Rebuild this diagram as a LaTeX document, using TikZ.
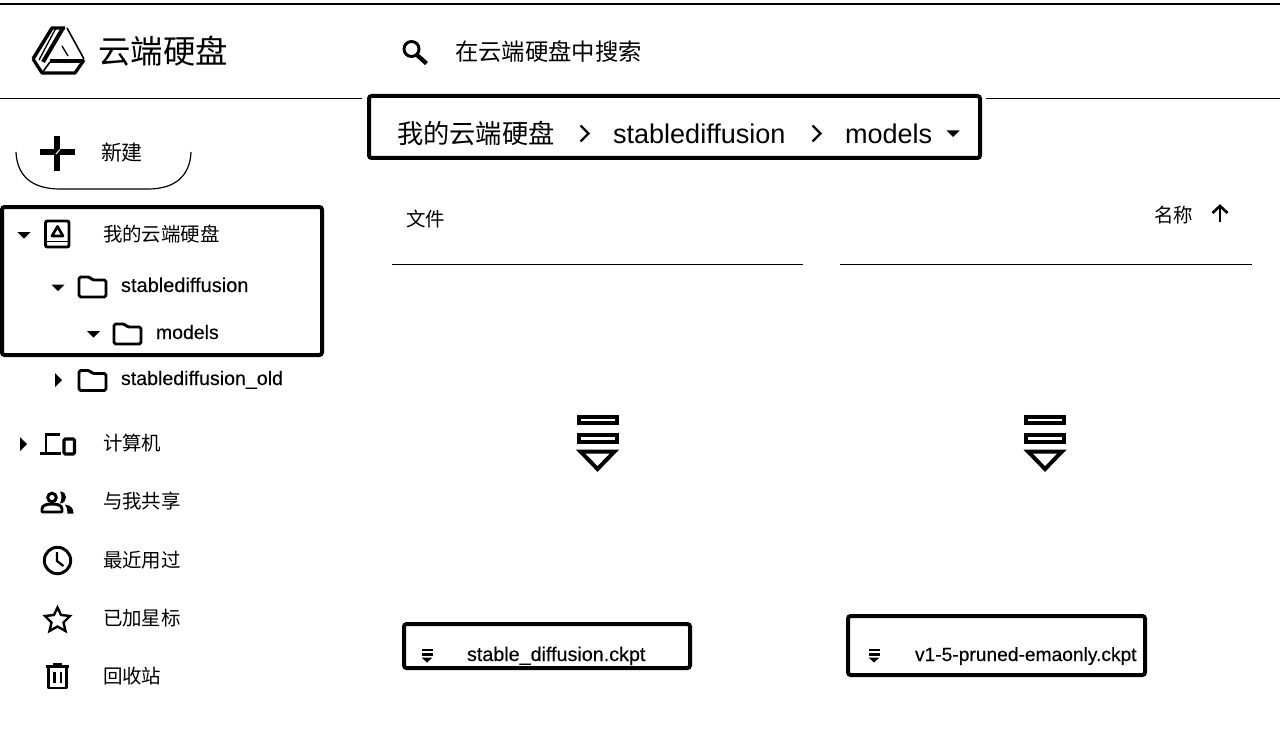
\documentclass[tikz,border=0pt]{standalone}
\usepackage{fontspec}
\setmainfont{Liberation Sans}
\newfontfamily\med[FakeBold=0.25]{Liberation Sans}
\newfontfamily\cjk{Noto Sans CJK SC}
\usetikzlibrary{calc}
\tikzset{
  x=0.75pt,y=-0.75pt,
  frame/.style={draw=black,line width=3pt,rounded corners=2pt,outer sep=0pt,inner sep=0pt,anchor=north west},
  rule/.style={draw=black,line width=0.9pt},
  lbl/.style={inner sep=0pt,outer sep=0pt,anchor=base west,text=black},
  folder/.pic={\draw[line width=2.2pt,rounded corners=1.2pt,line join=round]
     (-13.5,-10) -- (-3,-10) -- (0,-7) -- (13.5,-7) -- (13.5,10) -- (-13.5,10) -- cycle;},
  dl/.pic={
    \draw[line width=3pt,line join=miter] (-19,-20.5) rectangle (19,-14.5);
    \draw[line width=3pt,line join=miter] (-19,-2.5) rectangle (19,4.5);
    \draw[line width=3pt,line join=miter] (-17,14.5) -- (17,14.5) -- (0,32) -- cycle;},
  dlsmall/.pic={
    \fill (-5.5,-6.5) rectangle (5.5,-4.5);
    \fill (-5.5,-2) rectangle (5.5,0.5);
    \fill (-5.5,2.5) -- (5.5,2.5) -- (0,7.5) -- cycle;},
  tridown/.pic={\fill (-6.5,-3) -- (6.5,-3) -- (0,3.5) -- cycle;},
  triright/.pic={\fill (-3.5,-7) -- (3.5,0) -- (-3.5,7) -- cycle;},
  chev/.pic={\draw[line width=1.7pt,line join=miter] (-4.5,-8) -- (3.5,0) -- (-4.5,8);},
}
\begin{document}
\begin{tikzpicture}
\useasboundingbox (0,0) rectangle (1280,738);
\fill[white] (0,0) rectangle (1280,738);
% rules
\draw[rule] (0,4) -- (1280,4);
\draw[rule] (0,98.5) -- (362,98.5);
\draw[rule] (986,98.5) -- (1280,98.5);
\draw[rule] (392,264.5) -- (803,264.5);
\draw[rule] (840,264.5) -- (1252,264.5);
% drive logo
\draw[line width=2.6pt,line join=round] (33,59) -- (52,28) -- (65,28);
\draw[line width=1.2pt] (67,28) -- (84,59);
\draw[line width=2.4pt,line join=round] (84,60) -- (75,73) -- (42,73) -- (33,59);
\draw[line width=3pt] (63,28) -- (43,62);
\draw[line width=1pt] (56,28) -- (39,60);
\draw[line width=3pt] (50,61.5) -- (84,61.5);
\draw[line width=1pt] (62,46) -- (68,56);
\draw[line width=1.2pt] (50,62) -- (42,73);
\draw[line width=1.2pt] (34,60) -- (43,73);
\node[lbl,font=\cjk\fontsize{24.3}{25}\selectfont] (title) at (98.5,64) {云端硬盘};
% search
\draw[line width=2.2pt] (411.5,49) circle[radius=7.5];
\draw[line width=3.2pt] (417,55) -- (426.5,63.5);
\node[lbl,font=\cjk\fontsize{17.5}{18}\selectfont] (search) at (455,61) {在云端硬盘中搜索};
% new button
\draw[line width=0.9pt] (16,152) .. controls (17,176) and (32,189) .. (60,189) -- (148,189) .. controls (175,189) and (190,176) .. (191,152);
\fill (54,136) rectangle (59.5,171);
\fill (40,149.5) rectangle (75,155);
\draw[white,line width=0.7pt] (56,154) -- (60,149.5);
\node[lbl,font=\cjk\fontsize{15.7}{16}\selectfont] (new) at (101,160.5) {新建};
% sidebar frame
\node[frame,minimum width=240pt,minimum height=111pt] (treebox) at (2,207) {};
\pic at (24,235) {tridown};
\draw[line width=2.2pt,rounded corners=1.5pt] (45.5,221) rectangle (69,247);
\draw[line width=1pt] (46,241.5) -- (69,241.5);
\draw[line width=2pt,line join=round] (57.5,226.5) -- (63,236) -- (52,236) -- cycle;
\node[lbl,font=\cjk\fontsize{14.6}{15}\selectfont] (mydrive) at (103,241) {我的云端硬盘};
\pic at (58,287.5) {tridown};
\pic at (92.5,287) {folder};
\node[lbl,font=\med\fontsize{15}{15}\selectfont] (sd) at (121,292) {stablediffusion};
\pic at (93.5,334) {tridown};
\pic at (127.5,334) {folder};
\node[lbl,font=\med\fontsize{14.6}{15}\selectfont] (models) at (156,339) {models};
\pic at (58.5,380) {triright};
\pic at (92.5,380.5) {folder};
\node[lbl,font=\med\fontsize{14.7}{15}\selectfont] (sdold) at (121,385) {stablediffusion\_old};
% computers
\pic at (23.5,444) {triright};
\draw[line width=2.2pt] (60,434.5) -- (46,434.5) -- (46,453.5);
\draw[line width=2.2pt] (40,453.5) -- (61,453.5);
\draw[line width=2.4pt,rounded corners=1pt] (64,439) rectangle (74.5,454);
\node[lbl,font=\cjk\fontsize{14.6}{15}\selectfont] (computers) at (103,450) {计算机};
% shared
\draw[line width=2.2pt] (52,497.5) circle[radius=4.3];
\draw[line width=2.2pt,line join=round] (42,512) -- (42,509) .. controls (42,505) and (47,504) .. (52,504) .. controls (57,504) and (62,505) .. (62,509) -- (62,512) -- cycle;
\fill (60,491.5) .. controls (68,491.5) and (68,503) .. (60,503.5) .. controls (62,499) and (62,495) .. (60,491.5) -- cycle;
\fill (65,504.5) .. controls (71,505.5) and (73.5,508) .. (73.5,513.5) -- (67.5,513.5) .. controls (67.5,510) and (67,507) .. (65,504.5) -- cycle;
\node[lbl,font=\cjk\fontsize{14.6}{15}\selectfont] (shared) at (103,508) {与我共享};
% recent
\draw[line width=2.2pt] (57.5,560.5) circle[radius=13.2];
\draw[line width=1.7pt] (57,552) -- (57,561) -- (63.5,566);
\node[lbl,font=\cjk\fontsize{14.6}{15}\selectfont] (recent) at (103,567) {最近用过};
% starred
\draw[line width=1.8pt,line join=miter] (57.5,607.5) -- (61,615) -- (70,616) -- (63.5,622.5) -- (65.5,631) -- (57.5,626.5) -- (49.5,631) -- (51.5,622.5) -- (45,616) -- (54,615) -- cycle;
\node[lbl,font=\cjk\fontsize{14.6}{15}\selectfont] (starred) at (103,625) {已加星标};
% trash
\draw[line width=2.2pt,line join=round] (48.5,667) -- (48.5,688) -- (66.5,688) -- (66.5,667);
\draw[line width=1.8pt] (46,666.5) -- (69,666.5);
\draw[line width=1.8pt] (53,664.5) -- (62,664.5);
\fill (53,672) rectangle (55.5,683);
\fill (59.5,672) rectangle (62,683);
\node[lbl,font=\cjk\fontsize{14.6}{15}\selectfont] (trash) at (103,683) {回收站};
% breadcrumb
\node[frame,minimum width=458.25pt,minimum height=46.5pt] (crumbbox) at (369,96) {};
\node[lbl,font=\cjk\fontsize{19.7}{20}\selectfont] (bc1) at (397,144) {我的云端硬盘};
\pic at (585,133.5) {chev};
\node[lbl,font=\fontsize{20.3}{20}\selectfont] (bc2) at (613,143) {stablediffusion};
\pic at (817,133.5) {chev};
\node[lbl,font=\fontsize{20.3}{20}\selectfont] (bc3) at (845,143) {models};
\pic at (953,133.5) {tridown};
% headers
\node[lbl,font=\cjk\fontsize{14.6}{15}\selectfont] (files) at (406,226) {文件};
\node[lbl,font=\cjk\fontsize{14.6}{15}\selectfont] (name) at (1154,222) {名称};
\draw[line width=2pt] (1220,222) -- (1220,206);
\draw[line width=2pt,line join=miter] (1212.5,213) -- (1220,206) -- (1227.5,213);
% downloads
\pic at (597.5,437) {dl};
\pic at (1045,437) {dl};
% file boxes
\node[frame,minimum width=214.5pt,minimum height=33pt] (file1) at (404,624) {};
\pic at (427,655) {dlsmall};
\node[lbl,font=\med\fontsize{14.8}{15}\selectfont] (f1) at (467,661) {stable\_diffusion.ckpt};
\node[frame,minimum width=222.75pt,minimum height=44.25pt] (file2) at (848,616) {};
\pic at (874,655) {dlsmall};
\node[lbl,font=\med\fontsize{14.4}{15}\selectfont] (f2) at (915,661) {v1-5-pruned-emaonly.ckpt};
\end{tikzpicture}
\end{document}
